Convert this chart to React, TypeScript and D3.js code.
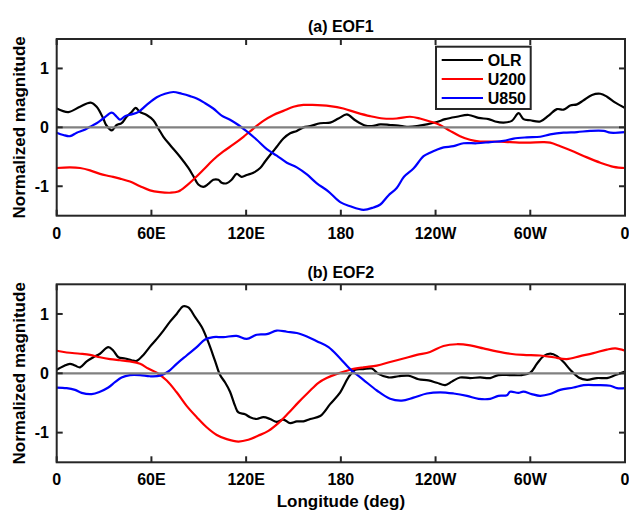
import React from "react";
import * as d3 from "d3";

// ---------- data ----------
const xTickValues = [0, 60, 120, 180, 240, 300, 360];
const xTickLabels = ["0", "60E", "120E", "180", "120W", "60W", "0"];
const yTickValues = [-1, 0, 1];
const seriesNames = ["OLR", "U200", "U850"];
const seriesColors = ["#000000", "#ff0000", "#0000ff"];
const panelTitles = ["(a) EOF1", "(b) EOF2"];

const eof1OLR: [number, number][] = [
  [0, 0.32], [7.4, 0.26], [14.8, 0.35], [21.5, 0.42], [25.3, 0.35], [29.5, 0.15], [31.3, 0.04], [34.9, -0.05],
  [38, 0.04], [41.1, 0.07], [44.3, 0.18], [47.5, 0.26], [50, 0.33], [52.8, 0.26], [57, 0.21], [61.2, 0.12],
  [64.4, -0.02], [67.6, -0.16], [71.8, -0.3], [78.1, -0.5], [83.4, -0.69], [86.6, -0.83], [89.7, -0.97],
  [92.9, -1.01], [96.1, -0.96], [99.2, -0.89], [102.4, -0.89], [104.5, -0.94], [107.7, -0.95], [110.8, -0.89],
  [114, -0.79], [117.2, -0.84], [120.4, -0.81], [124.6, -0.77], [128.9, -0.69], [132, -0.58], [135.2, -0.47],
  [139.4, -0.33], [143.6, -0.19], [147.9, -0.1], [152.1, -0.06], [156.3, 0], [160.6, 0.02], [166.9, 0.07],
  [173.2, 0.08], [178.5, 0.15], [183.8, 0.22], [189.1, 0.12], [195.4, 0.03], [199.6, 0.02], [204.9, 0.05],
  [211.2, 0.04], [216.5, 0.03], [221.8, 0.01], [228.2, 0.02], [234.5, 0.05], [240.8, 0.09], [246.1, 0.14],
  [253.5, 0.18], [260.9, 0.21], [267.2, 0.16], [273.6, 0.14], [277.8, 0.1], [283.1, 0.08], [288.3, 0.11],
  [292.6, 0.24], [295.7, 0.14], [300, 0.12], [306.3, 0.1], [311.6, 0.2], [316.9, 0.31], [321.1, 0.3],
  [325.3, 0.37], [329.6, 0.39], [333.8, 0.46], [339.1, 0.55], [344.4, 0.57], [348.6, 0.52], [353.9, 0.42],
  [360, 0.33],
];
const eof1U200: [number, number][] = [
  [0, -0.69], [8.4, -0.68], [14.8, -0.69], [21.1, -0.73], [27.4, -0.79], [33.8, -0.83], [40.1, -0.87],
  [46.4, -0.92], [52.8, -1.0], [59.1, -1.07], [65.4, -1.1], [71.8, -1.11], [77, -1.09], [82.3, -0.99],
  [87.6, -0.86], [92.9, -0.72], [99.2, -0.55], [105.6, -0.41], [111.9, -0.29], [118.3, -0.16], [124.6, -0.02],
  [130.9, 0.11], [137.3, 0.21], [143.6, 0.28], [150, 0.35], [156.3, 0.38], [162, 0.38], [173.2, 0.36],
  [181.6, 0.32], [190, 0.25], [198.5, 0.19], [206.9, 0.15], [215.3, 0.15], [223.8, 0.18], [230.1, 0.15],
  [236.5, 0.1], [242.8, 0.04], [249.2, -0.06], [255.5, -0.15], [261.8, -0.21], [268.2, -0.24], [276.6, -0.24],
  [287.2, -0.25], [297.8, -0.26], [308.4, -0.25], [312.6, -0.26], [319, -0.32], [327.4, -0.41], [335.9, -0.51],
  [344.4, -0.6], [352.8, -0.67], [360, -0.69],
];
const eof1U850: [number, number][] = [
  [0, -0.09], [4.2, -0.13], [8.4, -0.15], [12.7, -0.09], [16.9, -0.05], [21.1, 0.01], [25.3, 0.07],
  [29.5, 0.15], [34.9, 0.25], [38, 0.18], [40.1, 0.13], [43.3, 0.19], [47.5, 0.22], [51.7, 0.26], [57, 0.38],
  [63.4, 0.51], [68.6, 0.57], [73.9, 0.6], [79.2, 0.57], [84.5, 0.53], [88.7, 0.49], [94, 0.41], [99.2, 0.32],
  [104.5, 0.2], [109.8, 0.13], [115.1, 0.04], [120.4, -0.07], [126.7, -0.21], [133.1, -0.37], [139.4, -0.48],
  [145.8, -0.6], [152.1, -0.68], [158.5, -0.8], [164.8, -0.95], [172.2, -1.09], [179.6, -1.27], [185.9, -1.34],
  [194.3, -1.4], [200.7, -1.36], [205, -1.31], [210, -1.16], [215.4, -1.03], [220, -0.84], [226, -0.7],
  [232.4, -0.49], [236.5, -0.43], [240.8, -0.38], [245.1, -0.34], [251.4, -0.32], [257.7, -0.27], [266.2, -0.27],
  [274.6, -0.25], [283.1, -0.23], [289.4, -0.19], [297.8, -0.17], [306.3, -0.16], [312.6, -0.12], [321.1, -0.09],
  [329.6, -0.08], [338, -0.06], [346.5, -0.06], [350.7, -0.09], [360, -0.08],
];

const eof2OLR: [number, number][] = [
  [0, 0.06], [4.2, 0.12], [8.4, 0.16], [11.6, 0.13], [14.8, 0.1], [19, 0.2], [23.2, 0.27], [27.4, 0.33],
  [32.7, 0.44], [35.9, 0.38], [39.1, 0.27], [43.3, 0.25], [47.5, 0.22], [50.7, 0.21], [54.9, 0.31], [59.1, 0.45],
  [63.4, 0.58], [67.6, 0.72], [71.8, 0.87], [76, 1.0], [80.2, 1.13], [83.4, 1.11], [87.6, 0.95], [91.9, 0.78],
  [96.1, 0.52], [100.3, 0.21], [103.5, -0.03], [106.6, -0.15], [109.8, -0.31], [113, -0.55], [115.1, -0.66],
  [119.3, -0.69], [122.5, -0.74], [126.7, -0.77], [130.9, -0.74], [135.2, -0.77], [139.4, -0.82], [143.6, -0.78],
  [147.9, -0.84], [152.1, -0.81], [156.3, -0.81], [160.6, -0.77], [166.9, -0.72], [173.2, -0.52], [179.6, -0.32],
  [184.8, -0.07], [189.1, 0.06], [194.3, 0.07], [199.6, 0.08], [203.8, -0.01], [210.2, -0.07], [216.5, -0.05],
  [222.8, -0.04], [229.2, -0.1], [235.5, -0.12], [240.8, -0.16], [246.1, -0.2], [250.3, -0.14], [255.5, -0.07],
  [261.9, -0.08], [268.2, -0.07], [274.6, -0.08], [279.8, -0.03], [287.2, -0.03], [294.6, -0.03], [300, 0.01],
  [304.2, 0.16], [308.4, 0.29], [312.7, 0.33], [316.9, 0.29], [321.1, 0.19], [325.3, 0.06], [330.6, -0.07],
  [335.9, -0.11], [342.2, -0.08], [348.6, -0.08], [353.9, -0.03], [360, 0.03],
];
const eof2U200: [number, number][] = [
  [0, 0.38], [6.3, 0.35], [14.8, 0.33], [21.1, 0.31], [27.4, 0.27], [33.8, 0.24], [40.1, 0.22], [46.4, 0.2],
  [52.8, 0.16], [58, 0.08], [63.4, 0.01], [69.7, -0.12], [76, -0.32], [82.3, -0.55], [88.7, -0.74], [95, -0.91],
  [101.4, -1.04], [107.7, -1.11], [115.1, -1.15], [121.4, -1.12], [127.8, -1.05], [134.1, -0.97], [140.4, -0.84],
  [146.8, -0.67], [153.1, -0.49], [159.5, -0.32], [165.8, -0.16], [171, -0.08], [177.5, -0.01], [185.9, 0.06],
  [194.3, 0.1], [202.8, 0.13], [211.2, 0.19], [219.7, 0.25], [228.1, 0.31], [236.5, 0.36], [245, 0.46],
  [253.4, 0.49], [261.9, 0.47], [270.3, 0.42], [278.7, 0.37], [287.2, 0.33], [295.6, 0.31], [306.2, 0.3],
  [314.7, 0.27], [323.1, 0.24], [331.6, 0.29], [340, 0.34], [348.5, 0.4], [353.9, 0.42], [360, 0.38],
];
const eof2U850: [number, number][] = [
  [0, -0.24], [6.3, -0.25], [11.6, -0.28], [15.8, -0.33], [22.2, -0.35], [27.4, -0.31], [32.7, -0.24],
  [36.9, -0.15], [41.1, -0.07], [46.4, -0.03], [52.8, -0.03], [59.1, -0.05], [65.5, -0.04], [70.7, 0.03],
  [76, 0.16], [82.3, 0.3], [88.7, 0.44], [94, 0.57], [99.2, 0.61], [105.6, 0.61], [114, 0.63], [120.4, 0.58],
  [126.7, 0.65], [133.1, 0.66], [139.4, 0.72], [145.8, 0.7], [152.1, 0.68], [158.5, 0.62], [164.8, 0.54],
  [172.2, 0.44], [179.6, 0.25], [185.9, 0.07], [194.3, -0.11], [202.8, -0.29], [211.2, -0.43], [218.6, -0.46],
  [226, -0.41], [234.5, -0.34], [243, -0.32], [251.4, -0.34], [259.9, -0.38], [267.3, -0.43], [274.6, -0.43],
  [279.8, -0.38], [285.2, -0.37], [287.2, -0.31], [292.5, -0.33], [295.6, -0.31], [300.9, -0.35], [306.2, -0.38],
  [312.6, -0.35], [318.9, -0.28], [327.4, -0.24], [333.8, -0.2], [342.2, -0.2], [350.7, -0.21], [354.9, -0.25],
  [360, -0.25],
];

const panelSeries = [
  [eof1OLR, eof1U200, eof1U850],
  [eof2OLR, eof2U200, eof2U850],
];

// ---------- layout ----------
const W = 629;
const H = 511;
const LEFT = 56.7;
const RIGHT = 625;
const panels = [
  { top: 39, bottom: 215.7, titleY: 31.5, tickLabelY: 239 },
  { top: 284.3, bottom: 462.3, titleY: 278, tickLabelY: 485 },
];
const FONT = "'Liberation Sans', Arial, Helvetica, sans-serif";
const AXIS_COLOR = "#262626";
const TICK_LEN = 6;

function Panel({ idx }: { idx: number }) {
  const p = panels[idx];
  const x = d3.scaleLinear().domain([0, 360]).range([LEFT, RIGHT]);
  const y = d3.scaleLinear().domain([-1.5, 1.5]).range([p.bottom, p.top]);
  const line = d3
    .line<[number, number]>()
    .x((d) => x(d[0]))
    .y((d) => y(d[1]))
    .curve(d3.curveCatmullRom.alpha(0.5));
  const clipId = `clip-${idx}`;
  const cx = (LEFT + RIGHT) / 2;
  const cy = (p.top + p.bottom) / 2;
  return (
    <g>
      <defs>
        <clipPath id={clipId}>
          <rect x={LEFT} y={p.top} width={RIGHT - LEFT} height={p.bottom - p.top} />
        </clipPath>
      </defs>
      <g clipPath={`url(#${clipId})`}>
        {panelSeries[idx].map((s, i) => (
          <path key={i} d={line(s) || ""} fill="none" stroke={seriesColors[i]} strokeWidth={2.2} strokeLinejoin="round" />
        ))}
        <line x1={x(0)} x2={x(360)} y1={y(0)} y2={y(0)} stroke="#808080" strokeWidth={2.2} />
      </g>
      {/* ticks */}
      {xTickValues.map((t, i) => (
        <g key={`xt${i}`}>
          <line x1={x(t)} x2={x(t)} y1={p.bottom} y2={p.bottom - TICK_LEN} stroke={AXIS_COLOR} strokeWidth={2} />
          <line x1={x(t)} x2={x(t)} y1={p.top} y2={p.top + TICK_LEN} stroke={AXIS_COLOR} strokeWidth={2} />
          <text x={x(t)} y={p.tickLabelY} textAnchor="middle" fontFamily={FONT} fontWeight="bold" fontSize={16} fill="#000">
            {xTickLabels[i]}
          </text>
        </g>
      ))}
      {yTickValues.map((t, i) => (
        <g key={`yt${i}`}>
          <line x1={LEFT} x2={LEFT + TICK_LEN} y1={y(t)} y2={y(t)} stroke={AXIS_COLOR} strokeWidth={2} />
          <line x1={RIGHT} x2={RIGHT - TICK_LEN} y1={y(t)} y2={y(t)} stroke={AXIS_COLOR} strokeWidth={2} />
          <text x={49} y={y(t)} dy="0.36em" textAnchor="end" fontFamily={FONT} fontWeight="bold" fontSize={16} fill="#000">
            {t}
          </text>
        </g>
      ))}
      <rect x={LEFT} y={p.top} width={RIGHT - LEFT} height={p.bottom - p.top} fill="none" stroke={AXIS_COLOR} strokeWidth={2} />
      <text x={cx} y={p.titleY} textAnchor="middle" fontFamily={FONT} fontWeight="bold" fontSize={16} fill="#000">
        {panelTitles[idx]}
      </text>
      <text
        transform={`translate(25,${cy}) rotate(-90)`}
        textAnchor="middle"
        fontFamily={FONT}
        fontWeight="bold"
        fontSize={17}
        fill="#000"
      >
        Normalized magnitude
      </text>
    </g>
  );
}

function Legend() {
  const bx = 436;
  const by = 46.7;
  const bw = 94.7;
  const bh = 62.3;
  const rows = [60, 79, 98];
  return (
    <g>
      <rect x={bx} y={by} width={bw} height={bh} fill="#fff" stroke={AXIS_COLOR} strokeWidth={2} />
      {seriesNames.map((n, i) => (
        <g key={n}>
          <line x1={441.7} x2={483} y1={rows[i]} y2={rows[i]} stroke={seriesColors[i]} strokeWidth={2.2} />
          <text x={487.7} y={rows[i]} dy="0.36em" fontFamily={FONT} fontWeight="bold" fontSize={16} fill="#000">
            {n}
          </text>
        </g>
      ))}
    </g>
  );
}

export default function App() {
  return (
    <svg
      width={W}
      height={H}
      viewBox={`0 0 ${W} ${H}`}
      style={{ position: "absolute", left: 0, top: 0, background: "#fff" }}
    >
      <rect x={0} y={0} width={W} height={H} fill="#fff" />
      <Panel idx={0} />
      <Panel idx={1} />
      <Legend />
      <text x={(LEFT + RIGHT) / 2} y={507} textAnchor="middle" fontFamily={FONT} fontWeight="bold" fontSize={17} fill="#000">
        Longitude (deg)
      </text>
    </svg>
  );
}
